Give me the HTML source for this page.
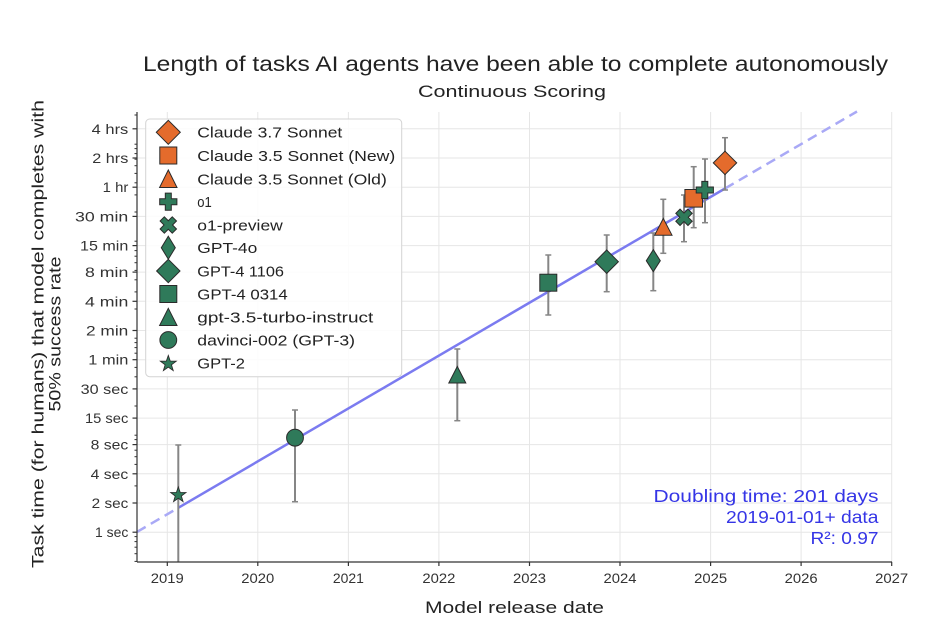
<!DOCTYPE html>
<html><head><meta charset="utf-8"><style>
html,body{margin:0;padding:0;background:#fff;}
svg{display:block;}
text{font-family:"Liberation Sans",sans-serif;}
</style></head><body>
<svg width="949" height="628" viewBox="0 0 949 628" xmlns="http://www.w3.org/2000/svg">
<rect width="949" height="628" fill="#fff"/>

<!-- Title -->
<text x="143" y="71" font-size="21" fill="#222" textLength="745" lengthAdjust="spacingAndGlyphs">Length of tasks AI agents have been able to complete autonomously</text>
<text x="418" y="97" font-size="17" fill="#222" textLength="188" lengthAdjust="spacingAndGlyphs">Continuous Scoring</text>

<!-- grid -->
<g stroke="#e6e6e6" stroke-width="1">
<line x1="167.3" y1="112" x2="167.3" y2="562"/>
<line x1="257.8" y1="112" x2="257.8" y2="562"/>
<line x1="348.4" y1="112" x2="348.4" y2="562"/>
<line x1="438.9" y1="112" x2="438.9" y2="562"/>
<line x1="529.5" y1="112" x2="529.5" y2="562"/>
<line x1="620.0" y1="112" x2="620.0" y2="562"/>
<line x1="710.6" y1="112" x2="710.6" y2="562"/>
<line x1="801.1" y1="112" x2="801.1" y2="562"/>
<line x1="891.7" y1="112" x2="891.7" y2="562"/>
<line x1="137" y1="532.2" x2="892" y2="532.2"/>
<line x1="137" y1="503.0" x2="892" y2="503.0"/>
<line x1="137" y1="473.8" x2="892" y2="473.8"/>
<line x1="137" y1="444.6" x2="892" y2="444.6"/>
<line x1="137" y1="418.1" x2="892" y2="418.1"/>
<line x1="137" y1="388.9" x2="892" y2="388.9"/>
<line x1="137" y1="359.7" x2="892" y2="359.7"/>
<line x1="137" y1="330.5" x2="892" y2="330.5"/>
<line x1="137" y1="301.3" x2="892" y2="301.3"/>
<line x1="137" y1="272.1" x2="892" y2="272.1"/>
<line x1="137" y1="245.6" x2="892" y2="245.6"/>
<line x1="137" y1="216.4" x2="892" y2="216.4"/>
<line x1="137" y1="187.2" x2="892" y2="187.2"/>
<line x1="137" y1="158.0" x2="892" y2="158.0"/>
<line x1="137" y1="128.8" x2="892" y2="128.8"/>
</g>

<!-- trend line -->
<line x1="137" y1="531.9" x2="178.5" y2="507.7" stroke="#a9a9f6" stroke-width="2.5" stroke-dasharray="10,6"/>
<line x1="178.5" y1="507.7" x2="725" y2="188.5" stroke="#7b7bf0" stroke-width="2.5"/>
<line x1="725" y1="188.5" x2="857" y2="111.5" stroke="#a9a9f6" stroke-width="2.5" stroke-dasharray="10,6"/>

<!-- error bars -->
<g stroke="#868686" stroke-width="2">
<line x1="178.3" y1="445" x2="178.3" y2="562"/>
<line x1="295" y1="410" x2="295" y2="501.7"/>
<line x1="457.3" y1="349" x2="457.3" y2="420.7"/>
<line x1="548.3" y1="255" x2="548.3" y2="315"/>
<line x1="606.7" y1="235" x2="606.7" y2="291.7"/>
<line x1="653.3" y1="233" x2="653.3" y2="290.7"/>
<line x1="663.3" y1="199.3" x2="663.3" y2="253.3"/>
<line x1="684" y1="195" x2="684" y2="241.7"/>
<line x1="693.7" y1="166.7" x2="693.7" y2="227.7"/>
<line x1="705" y1="159" x2="705" y2="222.7"/>
<line x1="725" y1="137.7" x2="725" y2="190"/>
</g>
<g stroke="#868686" stroke-width="1.5">
<line x1="175.3" y1="445" x2="181.3" y2="445"/>
<line x1="292" y1="410" x2="298" y2="410"/><line x1="292" y1="501.7" x2="298" y2="501.7"/>
<line x1="454.3" y1="349" x2="460.3" y2="349"/><line x1="454.3" y1="420.7" x2="460.3" y2="420.7"/>
<line x1="545.3" y1="255" x2="551.3" y2="255"/><line x1="545.3" y1="315" x2="551.3" y2="315"/>
<line x1="603.7" y1="235" x2="609.7" y2="235"/><line x1="603.7" y1="291.7" x2="609.7" y2="291.7"/>
<line x1="650.3" y1="233" x2="656.3" y2="233"/><line x1="650.3" y1="290.7" x2="656.3" y2="290.7"/>
<line x1="660.3" y1="199.3" x2="666.3" y2="199.3"/><line x1="660.3" y1="253.3" x2="666.3" y2="253.3"/>
<line x1="681" y1="195" x2="687" y2="195"/><line x1="681" y1="241.7" x2="687" y2="241.7"/>
<line x1="690.7" y1="166.7" x2="696.7" y2="166.7"/><line x1="690.7" y1="227.7" x2="696.7" y2="227.7"/>
<line x1="702" y1="159" x2="708" y2="159"/><line x1="702" y1="222.7" x2="708" y2="222.7"/>
<line x1="722" y1="137.7" x2="728" y2="137.7"/><line x1="722" y1="190" x2="728" y2="190"/>
</g>

<!-- data markers -->
<g stroke="#2a2a2a" stroke-width="1">
<polygon transform="translate(178.3,495) scale(0.85)" fill="#2f7a5a" points="0,-9.5 2.23,-3.07 9.03,-2.94 3.61,1.17 5.58,7.69 0,3.8 -5.58,7.69 -3.61,1.17 -9.03,-2.94 -2.23,-3.07"/>
<circle cx="295" cy="437.7" r="8.4" fill="#2f7a5a"/>
<polygon fill="#2f7a5a" points="457.3,366.5 465.8,383 448.8,383"/>
<rect x="539.8" y="274.2" width="17" height="17" fill="#2f7a5a"/>
<polygon fill="#2f7a5a" points="606.7,250 618.4,261.7 606.7,273.4 595,261.7"/>
<polygon fill="#2f7a5a" points="653.3,249.7 660.3,260.7 653.3,271.7 646.3,260.7"/>
<polygon fill="#e46b2c" points="663.3,218.5 672,235.2 654.6,235.2"/>
<polygon transform="translate(684,217.3) rotate(45)" fill="#2f7a5a" points="-3,-8.6 3,-8.6 3,-3 8.6,-3 8.6,3 3,3 3,8.6 -3,8.6 -3,3 -8.6,3 -8.6,-3 -3,-3"/>
<rect x="684.9" y="189.5" width="17.6" height="17.6" fill="#e46b2c"/>
<polygon transform="translate(704.8,190)" fill="#2f7a5a" points="-3,-8.6 3,-8.6 3,-3 8.6,-3 8.6,3 3,3 3,8.6 -3,8.6 -3,3 -8.6,3 -8.6,-3 -3,-3"/>
<polygon fill="#e46b2c" points="725,151.2 736.7,162.9 725,174.6 713.3,162.9"/>
</g>

<!-- spines -->
<line x1="137" y1="112" x2="137" y2="562" stroke="#333" stroke-width="1.2"/>
<line x1="137" y1="562" x2="892" y2="562" stroke="#333" stroke-width="1.2"/>

<!-- x ticks -->
<g stroke="#333" stroke-width="1.2">
<line x1="167.3" y1="562" x2="167.3" y2="566"/>
<line x1="257.8" y1="562" x2="257.8" y2="566"/>
<line x1="348.4" y1="562" x2="348.4" y2="566"/>
<line x1="438.9" y1="562" x2="438.9" y2="566"/>
<line x1="529.5" y1="562" x2="529.5" y2="566"/>
<line x1="620.0" y1="562" x2="620.0" y2="566"/>
<line x1="710.6" y1="562" x2="710.6" y2="566"/>
<line x1="801.1" y1="562" x2="801.1" y2="566"/>
<line x1="891.7" y1="562" x2="891.7" y2="566"/>
</g>
<g font-size="14" fill="#333" text-anchor="middle">
<text x="167.3" y="583" textLength="33" lengthAdjust="spacingAndGlyphs">2019</text>
<text x="257.8" y="583" textLength="33" lengthAdjust="spacingAndGlyphs">2020</text>
<text x="348.4" y="583" textLength="31" lengthAdjust="spacingAndGlyphs">2021</text>
<text x="438.9" y="583" textLength="33" lengthAdjust="spacingAndGlyphs">2022</text>
<text x="529.5" y="583" textLength="33" lengthAdjust="spacingAndGlyphs">2023</text>
<text x="620.0" y="583" textLength="33" lengthAdjust="spacingAndGlyphs">2024</text>
<text x="710.6" y="583" textLength="33" lengthAdjust="spacingAndGlyphs">2025</text>
<text x="801.1" y="583" textLength="33" lengthAdjust="spacingAndGlyphs">2026</text>
<text x="891.7" y="583" textLength="33" lengthAdjust="spacingAndGlyphs">2027</text>
</g>
<text x="425" y="613" font-size="17" fill="#222" textLength="179" lengthAdjust="spacingAndGlyphs">Model release date</text>

<!-- y minor ticks -->
<g stroke="#333" stroke-width="1">
<line x1="134.5" y1="561.4" x2="137" y2="561.4"/><line x1="134.5" y1="553.7" x2="137" y2="553.7"/><line x1="134.5" y1="547.2" x2="137" y2="547.2"/><line x1="134.5" y1="541.6" x2="137" y2="541.6"/><line x1="134.5" y1="536.6" x2="137" y2="536.6"/>
<line x1="134.5" y1="485.9" x2="137" y2="485.9"/><line x1="134.5" y1="464.4" x2="137" y2="464.4"/><line x1="134.5" y1="456.7" x2="137" y2="456.7"/><line x1="134.5" y1="450.2" x2="137" y2="450.2"/><line x1="134.5" y1="439.6" x2="137" y2="439.6"/>
<line x1="134.5" y1="435.2" x2="137" y2="435.2"/><line x1="134.5" y1="406.0" x2="137" y2="406.0"/><line x1="134.5" y1="376.8" x2="137" y2="376.8"/><line x1="134.5" y1="367.4" x2="137" y2="367.4"/><line x1="134.5" y1="353.2" x2="137" y2="353.2"/><line x1="134.5" y1="347.6" x2="137" y2="347.6"/><line x1="134.5" y1="342.6" x2="137" y2="342.6"/>
<line x1="134.5" y1="338.2" x2="137" y2="338.2"/><line x1="134.5" y1="309.0" x2="137" y2="309.0"/><line x1="134.5" y1="291.9" x2="137" y2="291.9"/><line x1="134.5" y1="279.8" x2="137" y2="279.8"/><line x1="134.5" y1="270.4" x2="137" y2="270.4"/><line x1="134.5" y1="262.7" x2="137" y2="262.7"/><line x1="134.5" y1="256.2" x2="137" y2="256.2"/><line x1="134.5" y1="250.6" x2="137" y2="250.6"/>
<line x1="134.5" y1="241.2" x2="137" y2="241.2"/><line x1="134.5" y1="212.0" x2="137" y2="212.0"/><line x1="134.5" y1="194.9" x2="137" y2="194.9"/><line x1="134.5" y1="182.8" x2="137" y2="182.8"/><line x1="134.5" y1="173.4" x2="137" y2="173.4"/><line x1="134.5" y1="165.7" x2="137" y2="165.7"/><line x1="134.5" y1="159.2" x2="137" y2="159.2"/><line x1="134.5" y1="153.6" x2="137" y2="153.6"/><line x1="134.5" y1="148.6" x2="137" y2="148.6"/>
<line x1="134.5" y1="144.2" x2="137" y2="144.2"/><line x1="134.5" y1="115.0" x2="137" y2="115.0"/>
</g>
<!-- y major ticks -->
<g stroke="#333" stroke-width="1.2">
<line x1="132.5" y1="532.2" x2="137" y2="532.2"/>
<line x1="132.5" y1="503.0" x2="137" y2="503.0"/>
<line x1="132.5" y1="473.8" x2="137" y2="473.8"/>
<line x1="132.5" y1="444.6" x2="137" y2="444.6"/>
<line x1="132.5" y1="418.1" x2="137" y2="418.1"/>
<line x1="132.5" y1="388.9" x2="137" y2="388.9"/>
<line x1="132.5" y1="359.7" x2="137" y2="359.7"/>
<line x1="132.5" y1="330.5" x2="137" y2="330.5"/>
<line x1="132.5" y1="301.3" x2="137" y2="301.3"/>
<line x1="132.5" y1="272.1" x2="137" y2="272.1"/>
<line x1="132.5" y1="245.6" x2="137" y2="245.6"/>
<line x1="132.5" y1="216.4" x2="137" y2="216.4"/>
<line x1="132.5" y1="187.2" x2="137" y2="187.2"/>
<line x1="132.5" y1="158.0" x2="137" y2="158.0"/>
<line x1="132.5" y1="128.8" x2="137" y2="128.8"/>
</g>
<g font-size="14" fill="#333" text-anchor="end">
<text x="128.3" y="537.2" textLength="33.3" lengthAdjust="spacingAndGlyphs">1 sec</text>
<text x="128.3" y="508.0" textLength="36.6" lengthAdjust="spacingAndGlyphs">2 sec</text>
<text x="128.3" y="478.8" textLength="37.6" lengthAdjust="spacingAndGlyphs">4 sec</text>
<text x="128.3" y="449.6" textLength="37.6" lengthAdjust="spacingAndGlyphs">8 sec</text>
<text x="128.3" y="423.1" textLength="43.3" lengthAdjust="spacingAndGlyphs">15 sec</text>
<text x="128.3" y="393.9" textLength="47.6" lengthAdjust="spacingAndGlyphs">30 sec</text>
<text x="128.3" y="364.7" textLength="40" lengthAdjust="spacingAndGlyphs">1 min</text>
<text x="128.3" y="335.5" textLength="42.3" lengthAdjust="spacingAndGlyphs">2 min</text>
<text x="128.3" y="306.3" textLength="43.3" lengthAdjust="spacingAndGlyphs">4 min</text>
<text x="128.3" y="277.1" textLength="43.3" lengthAdjust="spacingAndGlyphs">8 min</text>
<text x="128.3" y="250.6" textLength="48.3" lengthAdjust="spacingAndGlyphs">15 min</text>
<text x="128.3" y="221.4" textLength="53.3" lengthAdjust="spacingAndGlyphs">30 min</text>
<text x="128.3" y="192.2" textLength="25.6" lengthAdjust="spacingAndGlyphs">1 hr</text>
<text x="128.3" y="163.0" textLength="36" lengthAdjust="spacingAndGlyphs">2 hrs</text>
<text x="128.3" y="133.8" textLength="36.6" lengthAdjust="spacingAndGlyphs">4 hrs</text>
</g>

<!-- y label -->
<text transform="translate(43.5,334) rotate(-90)" text-anchor="middle" font-size="17" fill="#222" textLength="468" lengthAdjust="spacingAndGlyphs">Task time (for humans) that model completes with</text>
<text transform="translate(60.5,334) rotate(-90)" text-anchor="middle" font-size="17" fill="#222" textLength="155" lengthAdjust="spacingAndGlyphs">50% success rate</text>

<!-- legend -->
<rect x="145.7" y="119" width="256" height="257.7" rx="4" ry="4" fill="#fff" fill-opacity="0.85" stroke="#d4d4d4" stroke-width="1"/>
<g stroke="#2a2a2a" stroke-width="1">
<polygon fill="#e46b2c" points="168.3,120.3 180.3,132.3 168.3,144.3 156.3,132.3"/>
<rect x="159.8" y="147" width="17" height="17" fill="#e46b2c"/>
<polygon fill="#e46b2c" points="168.3,170 177,187.5 159.6,187.5"/>
<polygon transform="translate(168.3,201.7)" fill="#2f7a5a" points="-3,-8.6 3,-8.6 3,-3 8.6,-3 8.6,3 3,3 3,8.6 -3,8.6 -3,3 -8.6,3 -8.6,-3 -3,-3"/>
<polygon transform="translate(168.3,225) rotate(45)" fill="#2f7a5a" points="-3,-8.6 3,-8.6 3,-3 8.6,-3 8.6,3 3,3 3,8.6 -3,8.6 -3,3 -8.6,3 -8.6,-3 -3,-3"/>
<polygon fill="#2f7a5a" points="168.3,236.2 175.3,247.7 168.3,259.2 161.3,247.7"/>
<polygon fill="#2f7a5a" points="168.3,259.3 180,271 168.3,282.7 156.6,271"/>
<rect x="159.8" y="285.5" width="17" height="17" fill="#2f7a5a"/>
<polygon fill="#2f7a5a" points="168.3,308.3 177,325.5 159.6,325.5"/>
<circle cx="168.3" cy="340" r="8.4" fill="#2f7a5a"/>
<polygon transform="translate(168.3,363.8) scale(0.88)" fill="#2f7a5a" points="0,-9.5 2.23,-3.07 9.03,-2.94 3.61,1.17 5.58,7.69 0,3.8 -5.58,7.69 -3.61,1.17 -9.03,-2.94 -2.23,-3.07"/>
</g>
<g font-size="15" fill="#222">
<text x="197.3" y="137.6" textLength="145" lengthAdjust="spacingAndGlyphs">Claude 3.7 Sonnet</text>
<text x="197.3" y="161.0" textLength="198" lengthAdjust="spacingAndGlyphs">Claude 3.5 Sonnet (New)</text>
<text x="197.3" y="184.3" textLength="189.5" lengthAdjust="spacingAndGlyphs">Claude 3.5 Sonnet (Old)</text>
<text x="197.3" y="207.0" textLength="14.5" lengthAdjust="spacingAndGlyphs">o1</text>
<text x="197.3" y="230.3" textLength="85.5" lengthAdjust="spacingAndGlyphs">o1-preview</text>
<text x="197.3" y="253.0" textLength="60" lengthAdjust="spacingAndGlyphs">GPT-4o</text>
<text x="197.3" y="276.3" textLength="86.7" lengthAdjust="spacingAndGlyphs">GPT-4 1106</text>
<text x="197.3" y="299.3" textLength="90.4" lengthAdjust="spacingAndGlyphs">GPT-4 0314</text>
<text x="197.3" y="322.3" textLength="176" lengthAdjust="spacingAndGlyphs">gpt-3.5-turbo-instruct</text>
<text x="197.3" y="345.3" textLength="157.7" lengthAdjust="spacingAndGlyphs">davinci-002 (GPT-3)</text>
<text x="197.3" y="368.6" textLength="47.7" lengthAdjust="spacingAndGlyphs">GPT-2</text>
</g>

<!-- annotation -->
<g font-size="17.5" fill="#3535e6" text-anchor="end">
<text x="878.5" y="502" textLength="225" lengthAdjust="spacingAndGlyphs">Doubling time: 201 days</text>
<text x="878.5" y="523" textLength="152.5" lengthAdjust="spacingAndGlyphs">2019-01-01+ data</text>
<text x="878.5" y="544" textLength="68" lengthAdjust="spacingAndGlyphs">R²: 0.97</text>
</g>
</svg>
</body></html>
